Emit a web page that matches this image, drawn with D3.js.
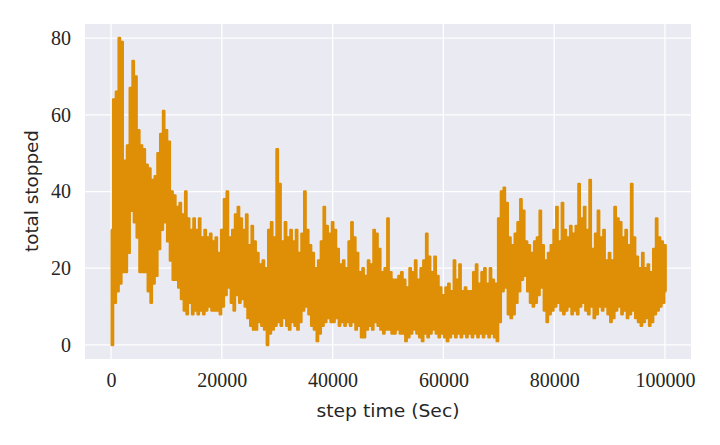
<!DOCTYPE html>
<html><head><meta charset="utf-8">
<script src="https://cdn.jsdelivr.net/npm/d3@7"></script>
<style>body{margin:0;background:#fff}svg{display:block}</style>
</head><body><svg id="c" width="720" height="445"></svg>
<script>
// x step of each envelope sample (Sec)
const stepSize = 500;
// upper envelope values (total stopped), every 500 s
const highs = [30,64,66,80,79,48,52,67,74,70,56,52,51,47,46,43,44,50,55,61,
56,53,40,39,36,37,34,40,33,30,33,30,33,28,30,28,29,27,28,24,
30,38,40,28,30,34,36,33,30,34,26,31,27,24,21,22,20,30,32,28,
51,42,27,32,28,30,27,30,24,29,40,30,26,24,20,22,27,36,31,29,
32,30,25,21,22,20,27,32,28,24,19,20,18,22,21,30,29,25,19,20,
33,19,17,17,18,19,17,15,20,19,22,17,20,22,29,23,19,23,18,15,
13,15,16,14,22,17,21,14,15,14,14,19,21,16,19,20,16,20,17,16,
33,40,41,37,28,26,29,32,38,35,27,26,24,27,28,35,26,22,24,26,
30,36,27,37,30,28,31,29,31,42,33,36,30,43,25,29,35,28,30,22,
24,22,36,33,32,28,30,26,42,28,23,20,24,20,21,19,25,33,28,27,26];
// lower envelope values
const lows = [0,11,14,16,19,19,24,35,32,28,19,19,19,14,11,16,18,25,30,32,
27,22,17,17,15,12,9,8,11,8,9,8,9,8,9,10,9,9,9,8,
10,13,15,11,9,13,11,12,10,7,5,4,4,6,5,4,0,3,4,5,
6,5,7,5,4,6,5,4,6,9,10,8,5,4,1,3,5,6,7,6,
6,7,5,6,5,6,5,6,4,5,2,2,4,5,4,6,5,4,3,4,
4,3,3,4,3,3,1,2,3,4,3,2,1,3,2,3,4,3,2,3,
2,1,2,3,2,3,2,3,2,3,2,3,2,3,2,3,2,3,2,1,
6,14,15,8,7,8,11,14,17,18,14,11,10,11,13,15,9,6,8,9,
10,11,9,8,9,10,8,9,8,10,11,9,8,10,7,8,10,9,10,8,
6,7,9,10,8,9,7,8,9,7,6,5,6,7,5,6,8,9,10,11,14];
const xTicks = [0,20000,40000,60000,80000,100000];
const yTicks = [0,20,40,60,80];

// build interleaved series
const series = [];
highs.forEach((h,i)=>{
  series.push({t:i*stepSize, v:h});
  series.push({t:i*stepSize+stepSize/2, v:lows[i]});
});

const svg = d3.select('#c');
const L=85,R=691,T=24,B=359;
const x = d3.scaleLinear().domain([-4700,104700]).range([L,R]);
const y = d3.scaleLinear().domain([-3.65,83.65]).range([B,T]);

svg.append('rect').attr('x',L).attr('y',T).attr('width',R-L).attr('height',B-T).attr('fill','#eaeaf2');
const g = svg.append('g');
g.selectAll('.vg').data(xTicks).join('line')
  .attr('x1',d=>x(d)).attr('x2',d=>x(d)).attr('y1',T).attr('y2',B)
  .attr('stroke','#fff').attr('stroke-width',1.25);
g.selectAll('.hg').data(yTicks).join('line')
  .attr('x1',L).attr('x2',R).attr('y1',d=>y(d)).attr('y2',d=>y(d))
  .attr('stroke','#fff').attr('stroke-width',1.25);

const line = d3.line().curve(d3.curveStep).x(d=>x(d.t)).y(d=>y(d.v));
svg.append('path').datum(series).attr('d',line)
  .attr('fill','none').attr('stroke','#de8f05').attr('stroke-width',2.4)
  .attr('stroke-linejoin','round').attr('stroke-linecap','butt');

const xa = svg.append('g').attr('transform',`translate(0,${B})`)
  .call(d3.axisBottom(x).tickValues(xTicks).tickFormat(d3.format('d')).tickSize(0).tickPadding(10));
const ya = svg.append('g').attr('transform',`translate(${L},0)`)
  .call(d3.axisLeft(y).tickValues(yTicks).tickFormat(d3.format('d')).tickSize(0).tickPadding(14));
[xa,ya].forEach(a=>{
  a.select('.domain').remove();
  a.selectAll('text').attr('font-family','"Liberation Serif", "DejaVu Serif", serif')
    .attr('font-size',20).attr('fill','#262626');
});
xa.selectAll('text').attr('dy','0.9em');

svg.append('text').attr('x',388).attr('y',417).attr('text-anchor','middle')
  .attr('font-family','"DejaVu Sans", sans-serif').attr('font-size',18).attr('fill','#262626')
  .attr('textLength',143).attr('lengthAdjust','spacingAndGlyphs')
  .text('step time (Sec)');
svg.append('text').attr('transform','translate(38,191) rotate(-90)').attr('text-anchor','middle')
  .attr('font-family','"DejaVu Sans", sans-serif').attr('font-size',18).attr('fill','#262626')
  .attr('textLength',122).attr('lengthAdjust','spacingAndGlyphs')
  .text('total stopped');
</script></body></html>
